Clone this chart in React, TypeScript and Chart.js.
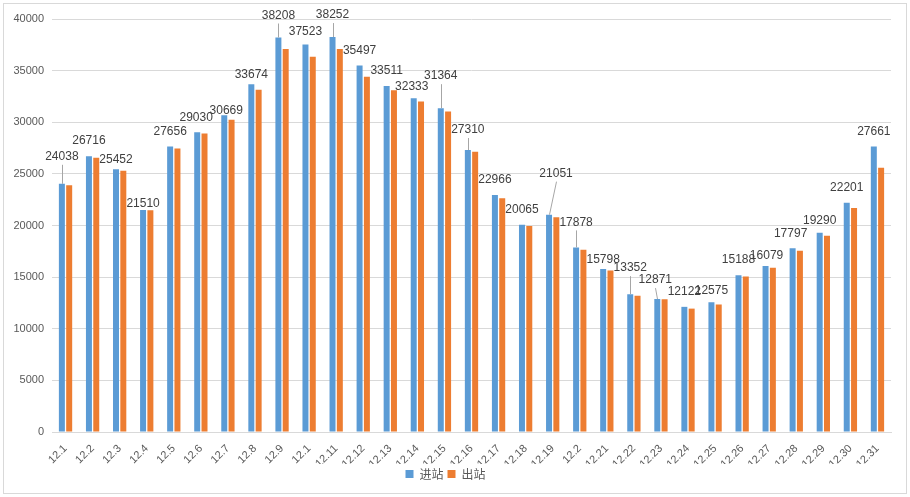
import React, { useEffect, useRef } from "react";
import { Chart, registerables } from "chart.js";

Chart.register(...registerables);

const categories = [
  "12.1", "12.2", "12.3", "12.4", "12.5", "12.6", "12.7", "12.8", "12.9", "12.1",
  "12.11", "12.12", "12.13", "12.14", "12.15", "12.16", "12.17", "12.18", "12.19", "12.2",
  "12.21", "12.22", "12.23", "12.24", "12.25", "12.26", "12.27", "12.28", "12.29", "12.30", "12.31",
];

const inbound = [
  24038, 26716, 25452, 21510, 27656, 29030, 30669, 33674, 38208, 37523,
  38252, 35497, 33511, 32333, 31364, 27310, 22966, 20065, 21051, 17878,
  15798, 13352, 12871, 12122, 12575, 15188, 16079, 17797, 19290, 22201, 27661,
];

const outbound = [
  23900, 26550, 25300, 21480, 27450, 28900, 30250, 33150, 37100, 36350,
  37100, 34400, 33100, 32000, 31050, 27150, 22650, 19950, 20800, 17650,
  15650, 13200, 12850, 11950, 12350, 15050, 15900, 17550, 19000, 21700, 25600,
];

const yTicks = [0, 5000, 10000, 15000, 20000, 25000, 30000, 35000, 40000];

const seriesNames = ["进站", "出站"];

// label nudges (dx, dy in px) relative to the default "outside end" placement
const labelNudges: [number, number][] = [
  [0, -12], [0, 0], [0, 5], [0, 9], [0, 0], [-1, 0], [2, 10], [0, 5], [0, -7], [0, 2],
  [0, -7], [0, 0], [0, 0], [-2, 4], [0, -17], [0, -5], [0, 0], [0, 0], [7, -26], [0, -10],
  [0, 6], [0, -11], [-2, -4], [0, 0], [0, 4], [0, 0], [1, 5], [-2, 0], [0, 3], [0, 0], [0, 0],
];

const FONT = "'Liberation Sans', 'Noto Sans CJK SC', sans-serif";

const labelPlugin = {
  id: "barLabels",
  afterDatasetsDraw(chart: any) {
    const ctx = chart.ctx;
    const meta = chart.getDatasetMeta(0);
    ctx.save();
    ctx.font = `12px ${FONT}`;
    ctx.textAlign = "center";
    ctx.textBaseline = "middle";
    meta.data.forEach((bar: any, i: number) => {
      const [dx, dy] = labelNudges[i] || [0, 0];
      const lx = bar.x + dx;
      const ly = bar.y - 15 + dy;
      const gap = bar.y - (ly + 7);
      if (gap >= 11) {
        ctx.strokeStyle = "#a6a6a6";
        ctx.lineWidth = 1;
        ctx.beginPath();
        ctx.moveTo(Math.round(lx) + 0.5, ly + 8);
        ctx.lineTo(Math.round(bar.x) + 0.5, bar.y);
        ctx.stroke();
      }
      ctx.fillStyle = "#404040";
      ctx.fillText(String(inbound[i]), lx, ly);
    });
    ctx.restore();
  },
};

export default function App() {
  const canvasRef = useRef<HTMLCanvasElement | null>(null);

  useEffect(() => {
    if (!canvasRef.current) return;
    const chart = new Chart(canvasRef.current, {
      type: "bar",
      data: {
        labels: categories,
        datasets: [
          {
            label: seriesNames[0],
            data: inbound,
            backgroundColor: "#5B9BD5",
            categoryPercentage: 0.54,
            barPercentage: 0.82,
          },
          {
            label: seriesNames[1],
            data: outbound,
            backgroundColor: "#ED7D31",
            categoryPercentage: 0.54,
            barPercentage: 0.82,
          },
        ],
      },
      options: {
        animation: false,
        responsive: false,
        maintainAspectRatio: false,
        layout: { padding: { left: 0, right: 19, top: 19, bottom: 7 } },
        plugins: {
          legend: {
            position: "bottom",
            labels: {
              boxWidth: 8,
              boxHeight: 8,
              padding: 4,
              color: "#595959",
              font: { family: "'Noto Sans CJK SC', sans-serif", size: 12 },
            },
          },
          tooltip: { enabled: false },
        },
        scales: {
          x: {
            grid: { display: false },
            border: { color: "#d9d9d9" },
            afterFit: (scale: any) => {
              scale.height = 32;
            },
            ticks: {
              color: "#595959",
              font: { family: FONT, size: 11 },
              minRotation: 45,
              maxRotation: 45,
              autoSkip: false,
              padding: 2,
            },
          },
          y: {
            min: 0,
            max: 40000,
            afterBuildTicks: (scale: any) => {
              scale.ticks = yTicks.map((v) => ({ value: v }));
            },
            afterFit: (scale: any) => {
              scale.width = 52;
            },
            grid: { color: "#d9d9d9", drawTicks: false },
            border: { display: false },
            ticks: {
              color: "#595959",
              font: { family: FONT, size: 11 },
              padding: 8,
              callback: (v: any) => String(v),
            },
          },
        },
      },
      plugins: [labelPlugin],
    });
    return () => chart.destroy();
  }, []);

  return (
    <div style={{ position: "fixed", left: 0, top: 0, width: 910, height: 497, background: "#fff" }}>
      <div
        style={{
          position: "absolute",
          left: 3,
          top: 3,
          width: 902,
          height: 489,
          border: "1px solid #d9d9d9",
          pointerEvents: "none",
        }}
      />
      <canvas ref={canvasRef} width={910} height={497} style={{ position: "absolute", left: 0, top: 0 }} />
    </div>
  );
}
